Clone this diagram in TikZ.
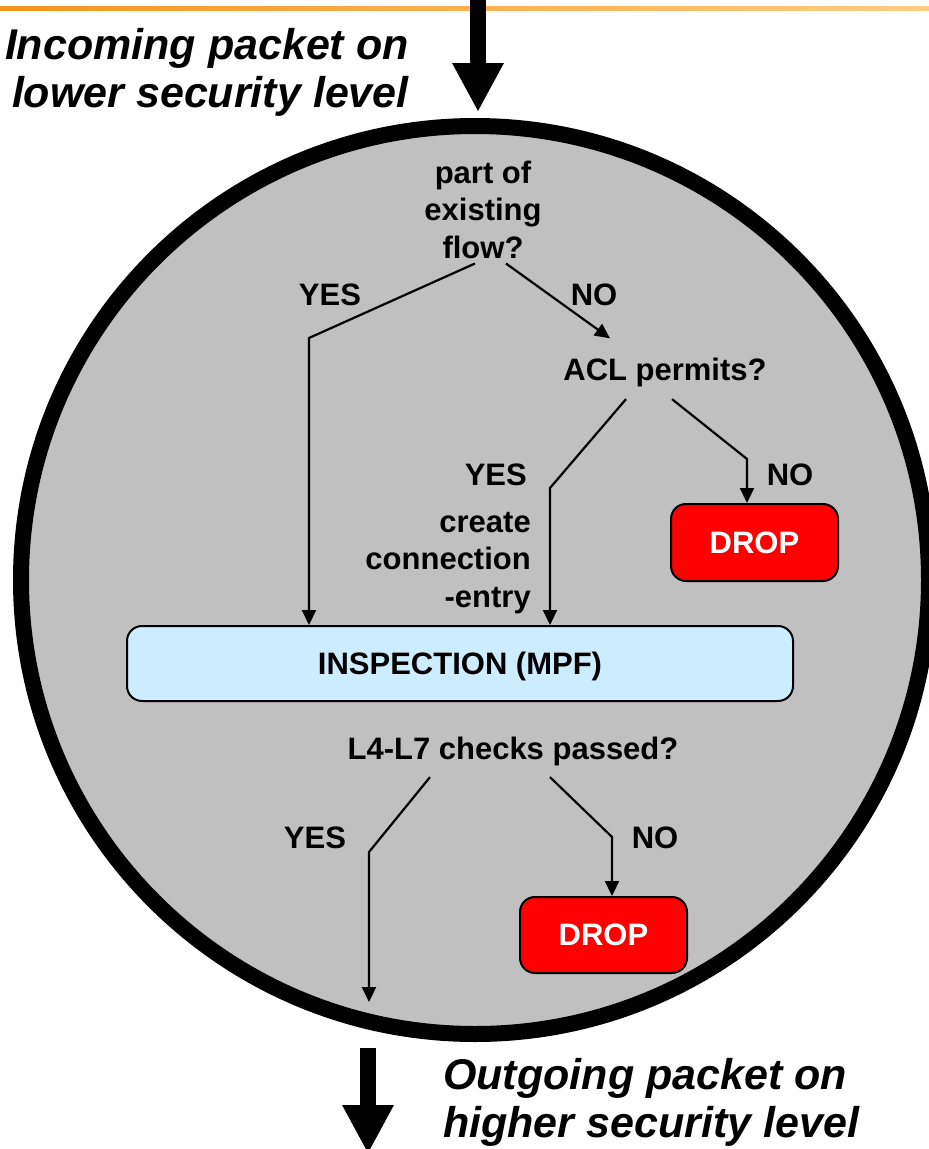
\documentclass[tikz,border=0pt]{standalone}
\usepackage{fontspec}
\setmainfont{Liberation Sans}
\usetikzlibrary{arrows.meta, shapes}

\definecolor{fwgray}{RGB}{192,192,192}
\definecolor{inspblue}{RGB}{204,236,255}
\definecolor{barleft}{RGB}{247,148,29}
\definecolor{barright}{RGB}{253,205,130}

\tikzset{
    lbl/.style={inner sep=0, font=\bfseries\fontsize{31}{37.5}\selectfont},
    io/.style={inner sep=0, font=\bfseries\itshape\fontsize{43}{48}\selectfont},
    dropbox/.style={rectangle, rounded corners=15, draw, line width=2, fill=red, text=white,
        minimum width=167, minimum height=77, font=\bfseries\fontsize{31}{37.5}\selectfont},
    flow/.style={line width=2.2, -{Triangle[length=15pt, width=14pt]}},
    bigarrow/.style={line width=16, -{Triangle[length=49pt, width=48pt]}},
}

\begin{document}
\begin{tikzpicture}[x=1pt, y=-1pt]
        \useasboundingbox (0, 0) rectangle (929, 1149);
        \clip (0, 0) rectangle (929, 1149);

        \shade[left color=barleft, right color=barright] (0, 6) rectangle (929, 10);

        \node[circle, draw, line width=16, fill=fwgray, minimum size=908, inner sep=0] (fw) at (475, 580) {};

        \coordinate (inTop) at (478, 0);
        \coordinate (inTip) at (478, 112);
        \coordinate (outTop) at (368, 1048);
        \coordinate (outTip) at (368, 1154);
        \draw[bigarrow] (inTop) -- (inTip);
        \draw[bigarrow] (outTop) -- (outTip);

        \node[io, align=right, anchor=base east] (inTxt) at (409, 107) {Incoming packet on\\lower security level};
        \node[io, align=left, anchor=base west] (outTxt) at (443, 1137) {Outgoing packet on\\higher security level};

        \node[lbl, align=center, anchor=base] (q1) at (483, 258) {part of\\existing\\flow?};
        \node[lbl, anchor=base] (yes1) at (330, 305) {YES};
        \node[lbl, anchor=base] (no1) at (594, 305) {NO};
        \node[lbl, anchor=base] (acl) at (665, 380) {ACL permits?};
        \node[lbl, anchor=base east] (yes2) at (527, 485) {YES};
        \node[lbl, anchor=base] (no2) at (790, 485) {NO};
        \node[lbl, align=right, anchor=base east] (create) at (531, 607) {create\\connection\\-entry};
        \node[dropbox] (drop1) at (754.5, 542.5) {DROP};

        \node[rectangle, rounded corners=15, draw, line width=2, fill=inspblue, minimum width=666,
            minimum height=75, text depth=0pt, font=\bfseries\fontsize{31}{37.5}\selectfont] (insp) at (460, 663.5) {INSPECTION (MPF)};

        \node[lbl, anchor=base] (chk) at (513, 759) {L4-L7 checks passed?};
        \node[lbl, anchor=base] (yes3) at (315, 848) {YES};
        \node[lbl, anchor=base] (no3) at (655, 848) {NO};
        \node[dropbox, minimum height=76] (drop2) at (603.5, 935) {DROP};

        \coordinate (b1) at (309, 338);
        \coordinate (b2) at (550, 488);
        \coordinate (b3) at (747, 459);
        \coordinate (b4) at (369, 852);
        \coordinate (b5) at (612, 837);
        \coordinate (exit) at (369, 1002);

        \draw[flow] ([shift={(-8, 5)}]q1.south) -- (b1) -- (b1 |- insp.north);
        \draw[flow] ([shift={(23, 5)}]q1.south) -- ([shift={(-55, -19)}]acl.north);
        \draw[flow] ([shift={(-39, 12.5)}]acl.south) -- (b2) -- (b2 |- insp.north);
        \draw[flow] ([shift={(7, 12.5)}]acl.south) -- (b3) -- (b3 |- drop1.north);
        \draw[flow] ([shift={(-83, 11.5)}]chk.south) -- (b4) -- (exit);
        \draw[flow] ([shift={(37, 11.5)}]chk.south) -- (b5) -- (b5 |- drop2.north);
    \end{tikzpicture}
\end{document}
